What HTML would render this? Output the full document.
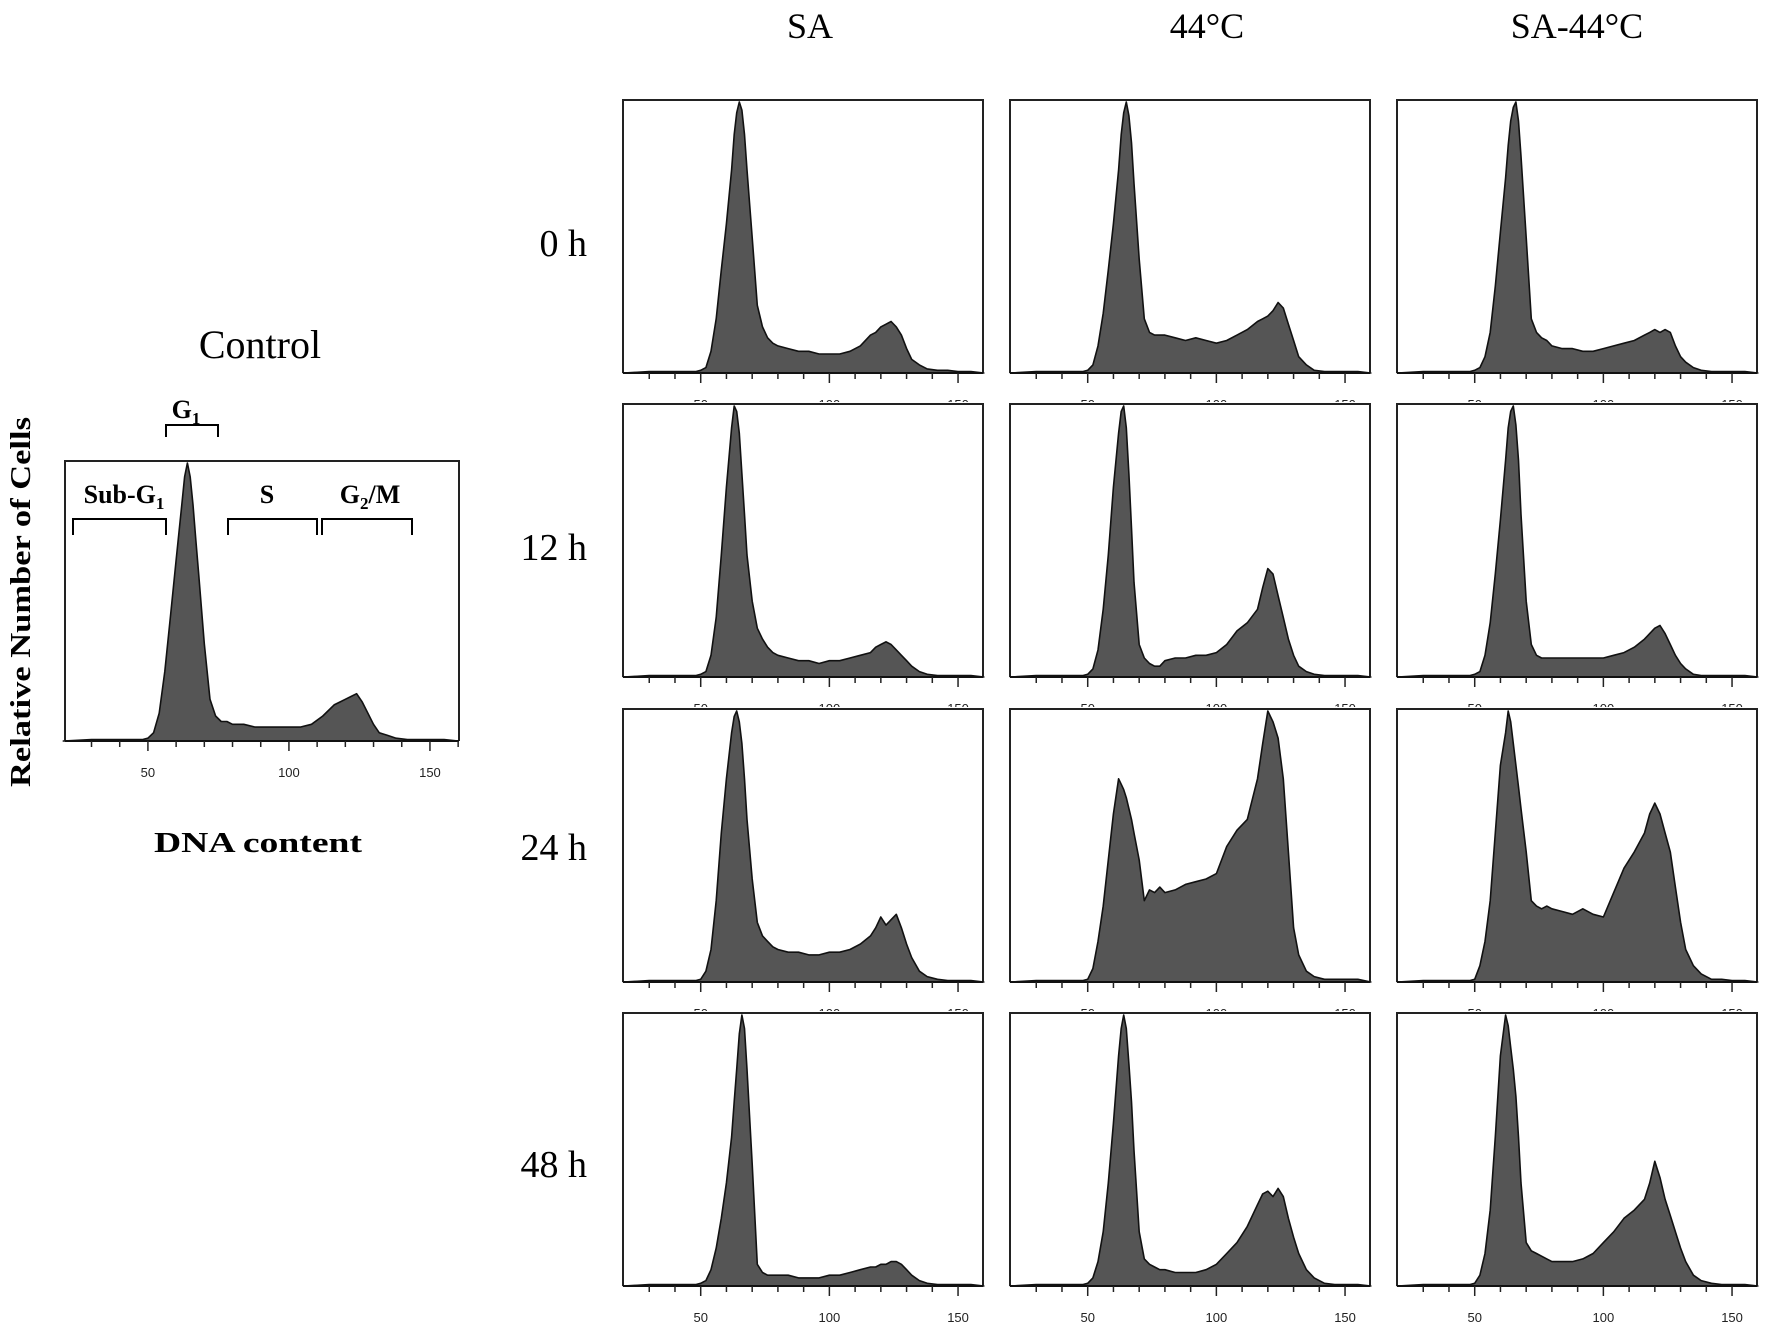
<!DOCTYPE html>
<html><head><meta charset="utf-8"><style>
html,body{margin:0;padding:0;background:#fff;}
svg{display:block;font-family:"Liberation Serif",serif;}
</style></head><body>
<svg id="fig" width="1772" height="1333" viewBox="0 0 1772 1333" xmlns="http://www.w3.org/2000/svg">
<rect width="1772" height="1333" fill="#fff"/>
<text x="810" y="38" font-size="36" text-anchor="middle">SA</text>
<text x="1207" y="38" font-size="36" text-anchor="middle">44°C</text>
<text x="1577" y="38" font-size="36" text-anchor="middle">SA-44°C</text>
<text x="587" y="256" font-size="38" text-anchor="end">0 h</text>
<text x="587" y="560" font-size="38" text-anchor="end">12 h</text>
<text x="587" y="860" font-size="38" text-anchor="end">24 h</text>
<text x="587" y="1177" font-size="38" text-anchor="end">48 h</text>
<text x="260" y="358" font-size="40" text-anchor="middle">Control</text>
<text transform="translate(30,602) rotate(-90)" font-size="29" font-weight="bold" text-anchor="middle" textLength="370" lengthAdjust="spacingAndGlyphs">Relative Number of Cells</text>
<text x="258" y="852" font-size="29" font-weight="bold" text-anchor="middle" textLength="208" lengthAdjust="spacingAndGlyphs">DNA content</text>
<g id="panels"></g>
<g id="annot" font-size="26" font-weight="bold">
<text x="186" y="418" text-anchor="middle">G<tspan font-size="17" dy="6">1</tspan></text>
<path d="M166,437 V425 H218 V437" fill="none" stroke="#000" stroke-width="2"/>
<text x="124" y="503" text-anchor="middle">Sub-G<tspan font-size="17" dy="6">1</tspan></text>
<path d="M73,535 V519 H166 V535" fill="none" stroke="#000" stroke-width="2"/>
<text x="267" y="503" text-anchor="middle">S</text>
<path d="M228,535 V519 H317 V535" fill="none" stroke="#000" stroke-width="2"/>
<text x="370" y="503" text-anchor="middle">G<tspan font-size="17" dy="6">2</tspan><tspan dy="-6">/M</tspan></text>
<path d="M322,535 V519 H412 V535" fill="none" stroke="#000" stroke-width="2"/>
</g>
</svg>
<script>
const channels=[20,30,40,48,50,52,54,56,58,60,62,63,64,65,66,67,68,70,72,74,76,78,80,84,88,92,96,100,104,108,112,116,118,120,122,124,126,128,130,132,135,138,142,146,150,155,160];
const controlCounts=[0,0.5,0.5,0.5,1,3,10,25,45,65,85,95,100,95,85,72,60,35,15,9,7,7,6,6,5,5,5,5,5,6,9,13,14,15,16,17,14,10,6,3,2,1,0.5,0.5,0.5,0.5,0];
const sa0=[0,0.5,0.5,0.5,1,2,8,20,38,55,75,88,96,100,97,88,75,50,25,17,13,11,10,9,8,8,7,7,7,8,10,14,15,17,18,19,17,14,9,5,3,1.5,1,1,0.5,0.5,0];
const sa12=[0,0.5,0.5,0.5,1,2,8,22,45,70,92,100,98,90,75,60,45,28,18,14,11,9,8,7,6,6,5,6,6,7,8,9,11,12,13,12,10,8,6,4,2,1,0.5,0.5,0.5,0.5,0];
const sa24=[0,0.5,0.5,0.5,1,4,12,30,55,75,92,98,100,96,88,75,60,38,22,17,15,13,12,11,11,10,10,11,11,12,14,17,20,24,21,23,25,20,14,9,4,2,1,0.5,0.5,0.5,0];
const sa48=[0,0.5,0.5,0.5,1,2,6,14,25,38,55,68,80,93,100,95,80,45,8,5,4,4,4,4,3,3,3,4,4,5,6,7,7,8,8,9,9,8,6,4,2,1,0.5,0.5,0.5,0.5,0];
const h44_0=[0,0.5,0.5,0.5,1,3,10,22,38,55,75,88,96,100,95,85,70,42,20,15,14,14,14,13,12,13,12,11,12,14,16,19,20,21,23,26,24,18,12,6,3,1,0.5,0.5,0.5,0.5,0];
const h44_12=[0,0.5,0.5,0.5,1,3,10,25,45,70,90,98,100,92,75,55,35,12,7,5,4,4,6,7,7,8,8,9,12,17,20,25,33,40,38,30,22,14,8,4,2,1,0.5,0.5,0.5,0.5,0];
const h44_24=[0,0.5,0.5,0.5,1,5,15,28,45,62,75,73,71,68,64,60,55,45,30,34,33,35,33,34,36,37,38,40,50,56,60,75,88,100,96,90,75,48,20,10,4,2,1,1,1,1,0];
const h44_48=[0,0.5,0.5,0.5,1,3,9,20,38,60,85,95,100,95,82,68,50,20,10,8,7,6,6,5,5,5,6,8,12,16,22,30,34,35,33,36,33,25,18,12,6,3,1,0.5,0.5,0.5,0];
const sah0=[0,0.5,0.5,0.5,1,2,6,15,32,52,72,84,93,98,100,93,80,50,20,15,13,12,10,9,9,8,8,9,10,11,12,14,15,16,15,16,15,10,6,4,2,1,0.5,0.5,0.5,0.5,0];
const sah12=[0,0.5,0.5,0.5,1,2,8,20,38,58,80,92,98,100,93,80,60,28,12,8,7,7,7,7,7,7,7,7,8,9,11,14,16,18,19,16,12,8,5,3,1,0.5,0.5,0.5,0.5,0.5,0];
const sah24=[0,0.5,0.5,0.5,1,6,15,30,55,80,92,100,96,88,80,72,64,48,30,28,27,28,27,26,25,27,25,24,33,42,48,55,62,66,62,55,48,35,22,12,6,3,1,1,0.5,0.5,0];
const sah48=[0,0.5,0.5,0.5,1,4,12,28,55,85,100,96,88,80,70,55,38,16,13,12,11,10,9,9,9,10,12,16,20,25,28,32,38,46,40,32,26,20,14,9,4,2,1,0.5,0.5,0.5,0];
const tickLabels=["50","100","150"];
const tickValues=[50,100,150];
const minorTicks=[30,40,50,60,70,80,90,100,110,120,130,140,150,160];

const NS="http://www.w3.org/2000/svg";
const root=document.getElementById('panels');
function mk(tag,attrs,parent){const e=document.createElementNS(NS,tag);for(const k in attrs)e.setAttribute(k,attrs[k]);parent.appendChild(e);return e;}

function drawPanel(name,counts,left,top,w,base,xmin,xmax,labelSize){
  const g=mk('g',{},root);
  
  
  const sx=v=>left+(v-xmin)/(xmax-xmin)*w;
  const sy=v=>base-v/100*(base-top-2);
  const bg=mk('rect',{x:left-2,y:top-2,width:w+4,height:base-top+45,fill:'#fff'},g);
  
  
  let d='M'+sx(channels[0]).toFixed(1)+','+base;
  for(let i=0;i<channels.length;i++){d+=' L'+sx(channels[i]).toFixed(1)+','+sy(counts[i]).toFixed(1);}
  d+=' L'+sx(channels[channels.length-1]).toFixed(1)+','+base+' Z';
  const area=mk('path',{d:d,fill:'#555',stroke:'#111','stroke-width':1.6,'stroke-linejoin':'round'},g);
  
  
  const frame=mk('path',{d:`M${left},${base} V${top} H${left+w} V${base}`,fill:'none',stroke:'#222','stroke-width':2},g);
  
  
  const axis=mk('line',{x1:left,y1:base,x2:left+w,y2:base,stroke:'#111','stroke-width':2},g);
  
  
  minorTicks.forEach(v=>{
    if(v<xmin||v>xmax)return;
    const major=tickValues.includes(v);
    const t=mk('line',{x1:sx(v),y1:base,x2:sx(v),y2:base+(major?10:6),stroke:'#222','stroke-width':1.5},g);
    
    
  });
  tickValues.forEach((v,i)=>{
    const t=mk('text',{x:sx(v),y:base+36,'font-size':labelSize,'text-anchor':'middle','font-family':'"Liberation Sans",sans-serif',fill:'#222'},g);
    t.textContent=tickLabels[i];
    
    
  });
}
const cols=[623,1010,1397];
const rows=[100,404,709,1013];
const grid=[[sa0,h44_0,sah0],[sa12,h44_12,sah12],[sa24,h44_24,sah24],[sa48,h44_48,sah48]];
const colNames=['sa','44c','sa-44c'];
const rowNames=['0h','12h','24h','48h'];
drawPanel('control-histogram',controlCounts,65,461,394,741,20.6,160.3,13);
for(let r=0;r<4;r++)for(let c=0;c<3;c++){
  drawPanel('histogram-'+colNames[c]+'-'+rowNames[r],grid[r][c],cols[c],rows[r],360,rows[r]+273,19.8,159.7,13);
}
</script>
</body></html>
